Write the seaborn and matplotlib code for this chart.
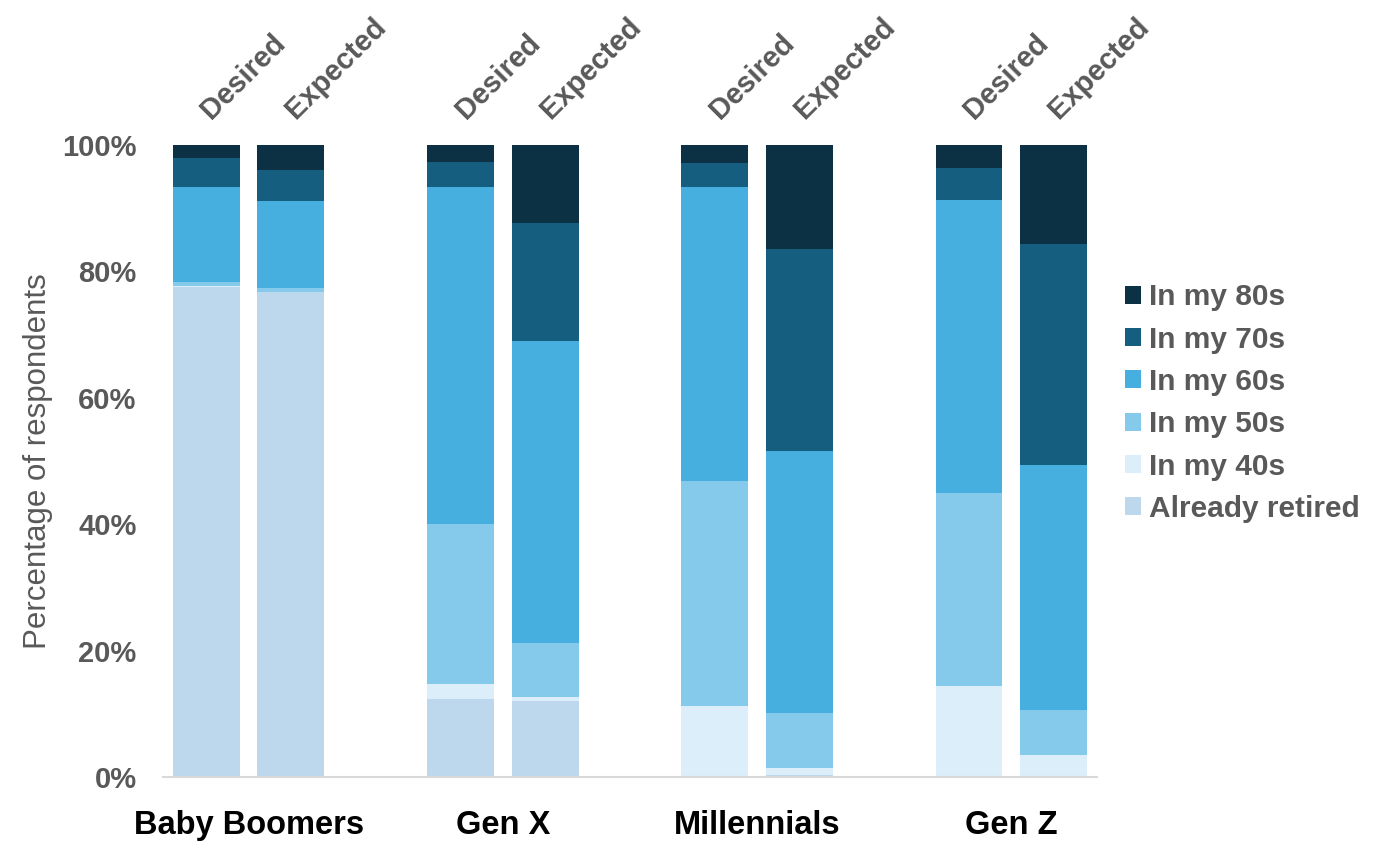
import pandas as pd
import matplotlib.pyplot as plt
from matplotlib.patches import Patch
import seaborn as sns

# values, in percent, per bar
groups = ["Baby Boomers", "Gen X", "Millennials", "Gen Z"]
scenarios = ["Desired", "Expected"]
layers = ["Already retired", "In my 40s", "In my 50s", "In my 60s", "In my 70s", "In my 80s"]

#            BB-D  BB-E  GX-D  GX-E  M-D   M-E   GZ-D  GZ-E
retired = [77.5, 76.8, 12.3, 12.0, 0.0, 0.3, 0.0, 0.0]
in_40s = [0.2, 0.0, 2.4, 0.6, 11.3, 1.1, 14.4, 3.5]
in_50s = [0.6, 0.5, 25.4, 8.6, 35.6, 8.7, 30.5, 7.1]
in_60s = [15.1, 13.8, 53.2, 47.8, 46.4, 41.5, 46.4, 38.7]
in_70s = [4.5, 4.9, 4.0, 18.7, 3.9, 31.9, 5.1, 35.1]
in_80s = [2.1, 4.0, 2.7, 12.3, 2.8, 16.5, 3.6, 15.6]

colors = ["#BDD7EC", "#DBEEF9", "#85CAEB", "#47AFE0", "#155E80", "#0C3044"]

sns.set_theme(style="white")
plt.rcParams["font.family"] = ["Liberation Sans", "DejaVu Sans"]
gray = "#595959"

bar_keys = [f"{g}|{s}" for g in groups for s in scenarios]
order = []
for i, g in enumerate(groups):
    order += [f"{g}|{s}" for s in scenarios]
    if i < len(groups) - 1:
        order.append(" " * (i + 1))  # spacer slot between groups

df = pd.DataFrame({"bar": bar_keys, "Already retired": retired, "In my 40s": in_40s,
                   "In my 50s": in_50s, "In my 60s": in_60s, "In my 70s": in_70s,
                   "In my 80s": in_80s})
cum = df[layers].cumsum(axis=1)

fig = plt.figure(figsize=(13.79, 8.61), dpi=100)
ax = fig.add_axes([0.1182, 0.0976, 0.6773, 0.734])

# stacked bars: draw cumulative totals from the top layer down
for layer, col in reversed(list(zip(layers, colors))):
    sns.barplot(x=df["bar"], y=cum[layer], order=order, color=col, saturation=1,
                width=0.79, errorbar=None, linewidth=0, ax=ax)

ax.set_xlim(-0.51, 10.51)
ax.set_ylim(0, 100)

for s in ["left", "top", "right"]:
    ax.spines[s].set_visible(False)
ax.spines["bottom"].set_color("#D9D9D9")
ax.spines["bottom"].set_linewidth(1.5)

ax.set_yticks(range(0, 101, 20))
ax.set_yticklabels([f"{v}%" for v in range(0, 101, 20)])
ax.tick_params(axis="y", length=0, pad=19, labelsize=21, labelcolor=gray)
for t in ax.get_yticklabels():
    t.set_fontweight("bold")

centers = [order.index(f"{g}|Desired") + 0.5 for g in groups]
ax.set_xticks(centers)
ax.set_xticklabels(groups)
ax.tick_params(axis="x", length=0, pad=24, labelsize=23.5, labelcolor="black")
for t in ax.get_xticklabels():
    t.set_fontweight("bold")

ax.set_xlabel("")
ax.set_ylabel("Percentage of respondents", fontsize=22.5, color=gray)
ax.yaxis.set_label_coords(-0.118, 0.5)

for key in bar_keys:
    ax.text(order.index(key) + 0.06, 104.0, key.split("|")[1], rotation=45,
            rotation_mode="anchor", ha="left", va="baseline", fontsize=21,
            fontweight="bold", color=gray, clip_on=False)

handles = [Patch(facecolor=c, edgecolor="none") for c in reversed(colors)]
ax.legend(handles, list(reversed(layers)), loc="center left",
          bbox_to_anchor=(1.03, 0.5915), frameon=False,
          prop={"weight": "bold", "size": 21.5}, labelcolor=gray,
          handlelength=0.55, handleheight=0.55, handletextpad=0.25,
          labelspacing=0.48, borderaxespad=0, borderpad=0)

fig.savefig("out.png", dpi=100)
